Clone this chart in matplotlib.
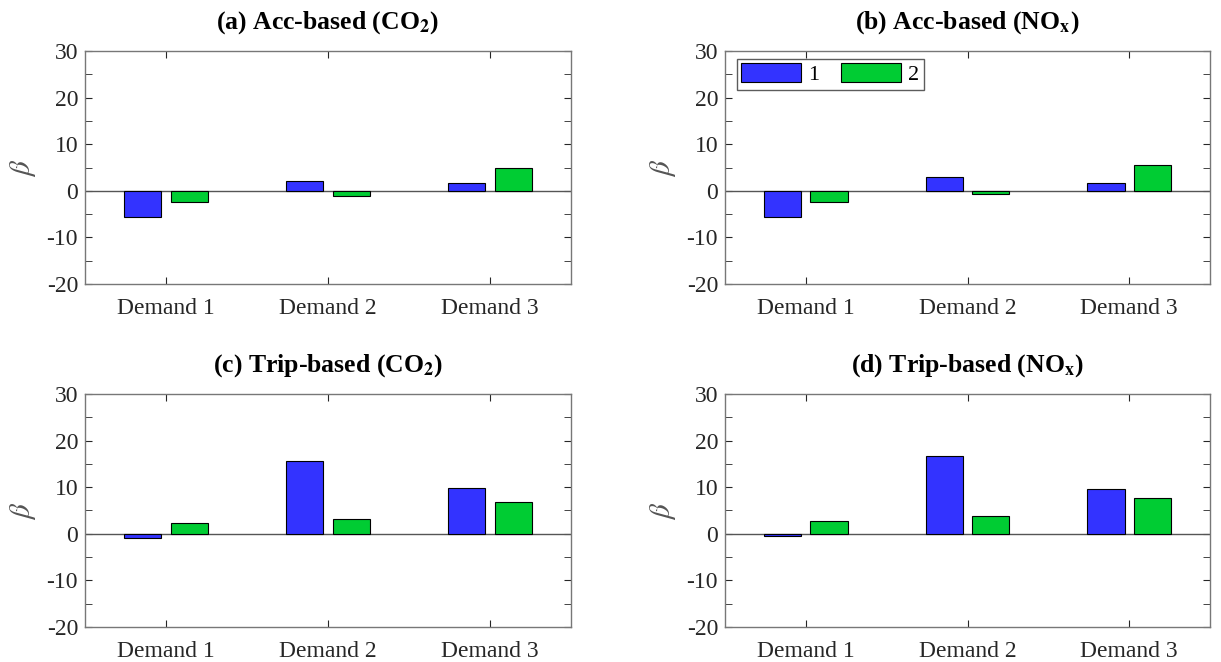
import matplotlib
matplotlib.use("Agg")
import matplotlib.pyplot as plt
import numpy as np
from matplotlib.ticker import MultipleLocator

plt.rcParams['font.family'] = ['Liberation Serif', 'DejaVu Serif']
plt.rcParams['mathtext.fontset'] = 'stix'
plt.rcParams['axes.unicode_minus'] = False

demands = ['Demand 1', 'Demand 2', 'Demand 3']
series_names = ['1', '2']
titles = [r'(a) Acc-based (CO$_{\mathbf{2}}$)', r'(b) Acc-based (NO$_{\mathbf{x}}$)',
          r'(c) Trip-based (CO$_{\mathbf{2}}$)', r'(d) Trip-based (NO$_{\mathbf{x}}$)']

# beta values per panel: [series 1, series 2] for Demand 1..3
acc_co2 = [[-5.6, 2.1, 1.7], [-2.5, -1.1, 4.9]]
acc_nox = [[-5.7, 2.9, 1.6], [-2.3, -0.6, 5.5]]
trip_co2 = [[-0.8, 15.7, 9.9], [2.4, 3.2, 6.9]]
trip_nox = [[-0.4, 16.7, 9.7], [2.8, 3.8, 7.7]]
panels = [acc_co2, acc_nox, trip_co2, trip_nox]

colors = ['#3333ff', '#00cc33']
axcol = '#262626'

fig = plt.figure(figsize=(12.21, 6.62), dpi=100)
W, H = 1221, 662
boxes = [(85, 51, 486, 233), (725, 51, 485, 233),
         (85, 394, 486, 233), (725, 394, 485, 233)]

x = np.arange(1, len(demands) + 1)
width = 0.23
offs = [-0.143, 0.143]

for i, (vals, title) in enumerate(zip(panels, titles)):
    l, t, w, h = boxes[i]
    ax = fig.add_axes([l / W, 1 - (t + h) / H, w / W, h / H])
    for k in range(2):
        ax.bar(x + offs[k], vals[k], width, color=colors[k], edgecolor='black',
               linewidth=0.8, label=series_names[k], zorder=3)
    ax.axhline(0, color='#555555', linewidth=1.0, zorder=2)
    ax.set_xlim(0.5, 3.5)
    ax.set_ylim(-20, 30)
    ax.set_xticks(x)
    ax.set_xticklabels(demands)
    ax.set_yticks([-20, -10, 0, 10, 20, 30])
    ax.yaxis.set_minor_locator(MultipleLocator(5))
    ax.tick_params(axis='both', which='both', direction='in', top=True, right=True,
                   colors=axcol, labelcolor='#262626', labelsize=17)
    ax.tick_params(axis='both', which='major', length=5)
    ax.tick_params(axis='y', which='minor', length=5)
    ax.tick_params(axis='x', which='major', pad=10)
    ax.tick_params(axis='y', which='major', pad=5)
    for s in ax.spines.values():
        s.set_color('#777777')
        s.set_linewidth(1.0)
    ax.set_ylabel(r'$\beta$', fontsize=21, color='#555555', labelpad=6)
    ax.set_title(title, fontsize=18.5, fontweight='bold', pad=16)
    if i == 1:
        ax.legend(loc='upper left', ncol=2, fontsize=16, frameon=True, fancybox=False,
                  edgecolor='#333333', handlelength=2.7, handleheight=0.9,
                  handletextpad=0.3, columnspacing=1.0, borderpad=0.2,
                  bbox_to_anchor=(0.02, 0.975), borderaxespad=0.1)

fig.savefig('out.png', dpi=100)
